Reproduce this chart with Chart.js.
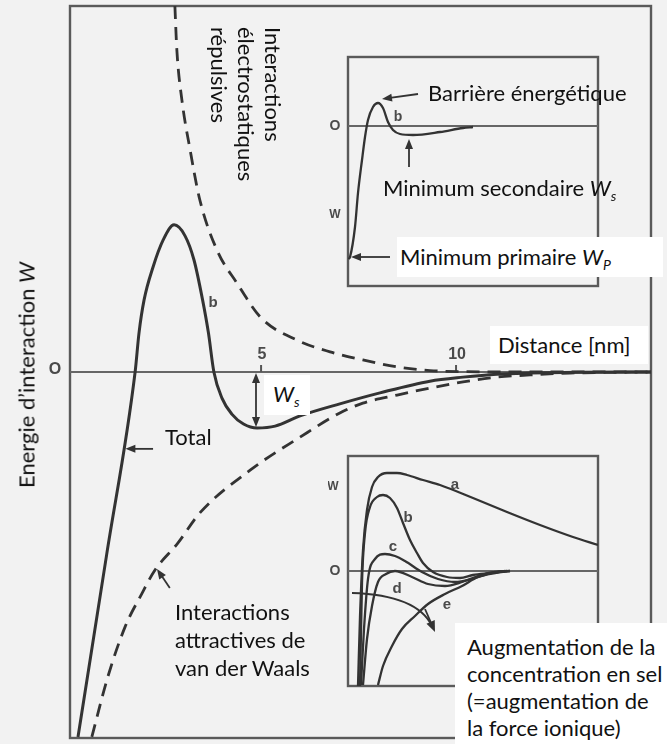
<!DOCTYPE html>
<html>
<head>
<meta charset="utf-8">
<script src="https://cdn.jsdelivr.net/npm/chart.js@4"></script>
<style>
  html, body { margin: 0; padding: 0; }
  body { width: 667px; height: 744px; background: #f2f2f2; position: relative; overflow: hidden;
         font-family: Lato, "Open Sans", sans-serif; color: #111; }
  canvas { position: absolute; }
  .lbl { position: absolute; font-size: 22px; line-height: 27px; white-space: nowrap; }
  .box { background: #fff; }
  sub { font-size: 14px; font-style: italic; vertical-align: -5px; line-height: 0; }
</style>
</head>
<body>
<canvas id="main" width="667" height="744" style="left:0;top:0"></canvas>
<canvas id="inset1" width="275" height="242" style="left:328px;top:50px"></canvas>
<canvas id="inset2" width="275" height="243" style="left:328px;top:449px"></canvas>

<div class="lbl" style="left:26px;top:375px;transform:translate(-50%,-50%) rotate(-90deg)">Energie d’interaction <i>W</i></div>
<div class="lbl" style="left:287px;top:27px;transform-origin:0 0;transform:rotate(90deg)">Interactions<br>électrostatiques<br>répulsives</div>
<div class="lbl" style="left:428px;top:79px">Barrière énergétique</div>
<div class="lbl" style="left:383px;top:174px">Minimum secondaire <i>W</i><sub>s</sub></div>
<div class="lbl box" style="left:397px;top:237px;width:263px;height:40px;padding-left:3px;line-height:40px">Minimum primaire <i>W</i><sub>P</sub></div>
<div class="lbl box" style="left:490px;top:326px;width:150px;height:38px;padding-left:8px;line-height:38px">Distance [nm]</div>
<div class="lbl box" style="left:264px;top:375px;width:37px;height:40px;padding-left:9px;line-height:38px"><i>W</i><sub>s</sub></div>
<div class="lbl" style="left:165px;top:423px">Total</div>
<div class="lbl" style="left:175px;top:598px;line-height:28px">Interactions<br>attractives de<br>van der Waals</div>
<div class="lbl box" style="left:455px;top:623px;width:200px;height:111px;padding:10px 0 0 12px">Augmentation de la<br>concentration en sel<br>(=augmentation de<br>la force ionique)</div>

<script>
// main chart: distance in nm, energy in arbitrary units
const totalX = [0.305, 1.04, 1.77, 1.87, 2.00, 2.23, 2.49, 2.77, 3.05, 3.28, 3.50, 3.65, 3.79, 4.00, 4.25, 4.55, 4.90, 5.36, 6.00, 7.02, 8.05, 9.33, 10.18, 11.05, 11.90, 13.20, 15.00];
const totalY = [-9.97, -4.99, 0.00, 1.07, 1.97, 2.87, 3.61, 4.02, 3.72, 3.06, 1.97, 1.07, 0.00, -0.72, -1.15, -1.42, -1.53, -1.48, -1.20, -0.87, -0.57, -0.25, -0.14, -0.06, -0.03, -0.01, 0.00];

const repX = [2.79, 2.84, 2.97, 3.18, 3.43, 3.87, 4.38, 5.00, 5.92, 6.77, 7.61, 8.49, 9.33, 10.10, 12.00, 15.00];
const repY = [10.00, 8.80, 7.43, 6.07, 4.70, 3.33, 2.43, 1.48, 0.87, 0.55, 0.33, 0.14, 0.04, 0.01, 0.00, 0.00];

const vdwX = [0.66, 1.07, 1.51, 1.95, 2.28, 2.87, 3.43, 4.72, 6.00, 7.02, 7.61, 8.49, 9.33, 10.18, 11.05, 11.90, 12.92, 15.00];
const vdwY = [-9.97, -8.33, -6.97, -6.04, -5.41, -4.67, -3.85, -2.68, -1.78, -1.12, -0.85, -0.63, -0.44, -0.27, -0.14, -0.08, -0.03, 0.00];

const xTicks = [5, 10];

// inset 1: single curve b
const insetBX = [0.05, 0.2, 0.7, 1.0, 1.4, 1.7, 2.0, 2.5, 3.0, 3.5, 4.0, 4.5, 5.2, 6.5, 9.2, 11.5, 12.5];
const insetBY = [-13.3, -13.1, -10.1, -6.7, -3.4, -1.1, 0.6, 1.9, 2.3, 1.8, 0.4, -0.4, -0.8, -0.9, -0.6, -0.2, -0.1];

// inset 2: curves a to e (increasing salt concentration)
const curveAX = [1.0, 1.2, 1.5, 1.9, 2.4, 3.0, 3.9, 4.9, 5.9, 7.5, 9.2, 12.5, 15.9, 19.2, 22.5, 25.0];
const curveAY = [-11.5, -4.6, 2.1, 6.1, 8.4, 9.4, 9.8, 9.8, 9.6, 9.1, 8.6, 7.3, 5.9, 4.6, 3.4, 2.6];
const curveBX = [1.2, 1.4, 1.7, 2.2, 2.9, 3.5, 4.2, 4.9, 5.5, 6.2, 6.9, 7.5, 8.5, 9.9, 11.2, 12.5, 14.2, 15.9];
const curveBY = [-11.5, -1.2, 3.8, 6.4, 7.4, 7.6, 7.3, 6.3, 4.8, 3.1, 1.8, 0.8, -0.1, -0.6, -0.7, -0.4, -0.2, 0.0];
const curveCX = [1.3, 1.6, 2.0, 2.7, 3.7, 4.7, 5.7, 7.4, 9.0, 10.7, 12.4, 14.0, 15.7];
const curveCY = [-11.4, -5.8, -0.8, 1.2, 1.7, 1.5, 1.0, -0.1, -0.8, -1.1, -0.8, -0.3, 0.0];
const curveDX = [1.5, 1.9, 2.4, 3.0, 3.8, 4.7, 6.4, 8.0, 9.7, 11.4, 13.0, 14.7, 16.2];
const curveDY = [-11.4, -6.8, -3.5, -1.1, -0.3, 0.0, -0.6, -1.3, -1.5, -1.1, -0.5, -0.1, 0.0];
const curveEX = [3.0, 3.5, 4.4, 5.4, 6.7, 8.0, 9.7, 11.4, 13.0, 14.7, 16.2];
const curveEY = [-11.4, -9.5, -7.5, -5.8, -4.5, -3.3, -2.3, -1.5, -0.6, -0.2, 0.0];
const curveLabels = ['a', 'b', 'c', 'd', 'e'];

const ink = '#333';
const zip = (xs, ys) => xs.map((x, i) => ({ x: x, y: ys[i] }));

function line(data, dashed, width) {
  return {
    data: data,
    borderColor: ink,
    borderWidth: width,
    borderDash: dashed ? [13, 8] : [],
    pointRadius: 0,
    fill: false,
    cubicInterpolationMode: 'monotone'
  };
}

function arrow(ctx, x1, y1, x2, y2, len, half) {
  const ang = Math.atan2(y2 - y1, x2 - x1);
  ctx.beginPath();
  ctx.moveTo(x1, y1);
  ctx.lineTo(x2 - Math.cos(ang) * len * 0.8, y2 - Math.sin(ang) * len * 0.8);
  ctx.stroke();
  ctx.beginPath();
  ctx.moveTo(x2, y2);
  ctx.lineTo(x2 - Math.cos(ang) * len - Math.sin(ang) * half, y2 - Math.sin(ang) * len + Math.cos(ang) * half);
  ctx.lineTo(x2 - Math.cos(ang) * len + Math.sin(ang) * half, y2 - Math.sin(ang) * len - Math.cos(ang) * half);
  ctx.closePath();
  ctx.fill();
}

// frame + zero line shared by the three panels
function frame(chart, zeroWidth) {
  const { ctx, chartArea: a, scales: { y } } = chart;
  const y0 = y.getPixelForValue(0);
  ctx.save();
  ctx.strokeStyle = '#5a5a5a';
  ctx.lineWidth = 2.4;
  ctx.strokeRect(a.left, a.top, a.right - a.left, a.bottom - a.top);
  ctx.strokeStyle = '#666';
  ctx.lineWidth = zeroWidth;
  ctx.beginPath();
  ctx.moveTo(a.left, y0);
  ctx.lineTo(a.right, y0);
  ctx.stroke();
  ctx.restore();
}

function smallText(ctx, txt, px, py, size) {
  ctx.font = 'bold ' + size + 'px "Liberation Sans", Arial, sans-serif';
  ctx.fillStyle = '#4a4a4a';
  ctx.textAlign = 'center';
  ctx.textBaseline = 'middle';
  ctx.fillText(txt, px, py);
}

const mainDeco = {
  id: 'mainDeco',
  beforeDatasetsDraw(chart) {
    const { ctx, chartArea: a, scales: { x, y } } = chart;
    frame(chart, 2.2);
    const y0 = y.getPixelForValue(0);
    ctx.save();
    ctx.strokeStyle = '#555';
    ctx.lineWidth = 2;
    xTicks.forEach(t => {
      const px = x.getPixelForValue(t);
      ctx.beginPath();
      ctx.moveTo(px, y0 - 7);
      ctx.lineTo(px, y0);
      ctx.stroke();
      smallText(ctx, String(t), px + 1, y0 - 17, 16);
    });
    smallText(ctx, 'O', a.left - 15, y0 - 2, 16);
    ctx.restore();
  },
  afterDatasetsDraw(chart) {
    const { ctx, scales: { x, y } } = chart;
    ctx.save();
    ctx.strokeStyle = ink;
    ctx.fillStyle = ink;
    ctx.lineWidth = 1.8;
    // W_s double arrow
    const xs = x.getPixelForValue(4.87);
    const ya = y.getPixelForValue(0), yb = y.getPixelForValue(-1.53);
    arrow(ctx, xs, (ya + yb) / 2, xs, ya + 1, 10, 4);
    arrow(ctx, xs, (ya + yb) / 2, xs, yb - 1, 10, 4);
    // Total pointer
    arrow(ctx, x.getPixelForValue(2.23), y.getPixelForValue(-2.1), x.getPixelForValue(1.52), y.getPixelForValue(-2.1), 10, 4);
    // van der Waals pointer
    arrow(ctx, x.getPixelForValue(2.66), y.getPixelForValue(-5.9), x.getPixelForValue(2.33), y.getPixelForValue(-5.38), 10, 4);
    smallText(ctx, 'b', x.getPixelForValue(3.77), y.getPixelForValue(1.89), 15);
    ctx.restore();
  }
};

const inset1Deco = {
  id: 'inset1Deco',
  beforeDatasetsDraw(chart) {
    const { ctx, chartArea: a, scales: { x, y } } = chart;
    frame(chart, 2);
    smallText(ctx, 'O', a.left - 13, y.getPixelForValue(0), 14);
    smallText(ctx, 'W', a.left - 13, y.getPixelForValue(-8.9), 12);
  },
  afterDatasetsDraw(chart) {
    const { ctx, scales: { x, y } } = chart;
    ctx.save();
    ctx.strokeStyle = ink;
    ctx.fillStyle = ink;
    ctx.lineWidth = 1.8;
    arrow(ctx, x.getPixelForValue(7.0), y.getPixelForValue(3.2), x.getPixelForValue(3.4), y.getPixelForValue(2.7), 10, 4);
    arrow(ctx, x.getPixelForValue(6.1), y.getPixelForValue(-4.1), x.getPixelForValue(6.1), y.getPixelForValue(-1.3), 10, 4);
    arrow(ctx, x.getPixelForValue(4.2), y.getPixelForValue(-13.1), x.getPixelForValue(0.3), y.getPixelForValue(-13.1), 10, 4);
    smallText(ctx, 'b', x.getPixelForValue(5.0), y.getPixelForValue(0.9), 14);
    ctx.restore();
  }
};

const labelPos = [[10.7, 8.6], [6.0, 5.3], [4.5, 2.4], [4.9, -1.8], [9.9, -3.4]];

const inset2Deco = {
  id: 'inset2Deco',
  beforeDatasetsDraw(chart) {
    const { ctx, chartArea: a, scales: { x, y } } = chart;
    frame(chart, 2);
    smallText(ctx, 'O', a.left - 13, y.getPixelForValue(0), 14);
    smallText(ctx, 'W', a.left - 15, y.getPixelForValue(8.4), 12);
  },
  afterDatasetsDraw(chart) {
    const { ctx, scales: { x, y } } = chart;
    ctx.save();
    curveLabels.forEach((l, i) => {
      smallText(ctx, l, x.getPixelForValue(labelPos[i][0]), y.getPixelForValue(labelPos[i][1]), 15);
    });
    // curved arrow: increasing ionic strength
    const p0 = [x.getPixelForValue(0.4), y.getPixelForValue(-2.2)];
    const c = [x.getPixelForValue(6.9), y.getPixelForValue(-2.4)];
    const p1 = [x.getPixelForValue(8.7), y.getPixelForValue(-6.1)];
    ctx.strokeStyle = ink;
    ctx.fillStyle = ink;
    ctx.lineWidth = 1.8;
    ctx.beginPath();
    ctx.moveTo(p0[0], p0[1]);
    ctx.quadraticCurveTo(c[0], c[1], p1[0] - 3, p1[1] - 6);
    ctx.stroke();
    arrow(ctx, c[0] + 8, c[1] + 14, p1[0], p1[1], 11, 4.5);
    ctx.restore();
  }
};

const common = {
  responsive: false,
  animation: false,
  devicePixelRatio: 1,
  plugins: { legend: { display: false }, tooltip: { enabled: false } }
};

new Chart(document.getElementById('main'), {
  type: 'line',
  data: {
    datasets: [
      line(zip(totalX, totalY), false, 3),
      line(zip(repX, repY), true, 2.8),
      line(zip(vdwX, vdwY), true, 2.8)
    ]
  },
  options: Object.assign({}, common, {
    layout: { padding: { left: 70, right: 16, top: 6, bottom: 6 } },
    scales: {
      x: { type: 'linear', min: 0.1, max: 15, display: false },
      y: { type: 'linear', min: -10, max: 10, display: false }
    }
  }),
  plugins: [mainDeco]
});

new Chart(document.getElementById('inset1'), {
  type: 'line',
  data: { datasets: [line(zip(insetBX, insetBY), false, 2.3)] },
  options: Object.assign({}, common, {
    layout: { padding: { left: 20, right: 5, top: 7, bottom: 6 } },
    scales: {
      x: { type: 'linear', min: 0, max: 25, display: false },
      y: { type: 'linear', min: -16, max: 6.9, display: false }
    }
  }),
  plugins: [inset1Deco]
});

new Chart(document.getElementById('inset2'), {
  type: 'line',
  data: {
    datasets: [
      line(zip(curveAX, curveAY), false, 2.3),
      line(zip(curveBX, curveBY), false, 2.3),
      line(zip(curveCX, curveCY), false, 2.3),
      line(zip(curveDX, curveDY), false, 2.3),
      line(zip(curveEX, curveEY), false, 2.3)
    ]
  },
  options: Object.assign({}, common, {
    layout: { padding: { left: 20, right: 5, top: 7, bottom: 6 } },
    scales: {
      x: { type: 'linear', min: 0, max: 25, display: false },
      y: { type: 'linear', min: -11.5, max: 11.5, display: false }
    }
  }),
  plugins: [inset2Deco]
});
</script>
</body>
</html>
